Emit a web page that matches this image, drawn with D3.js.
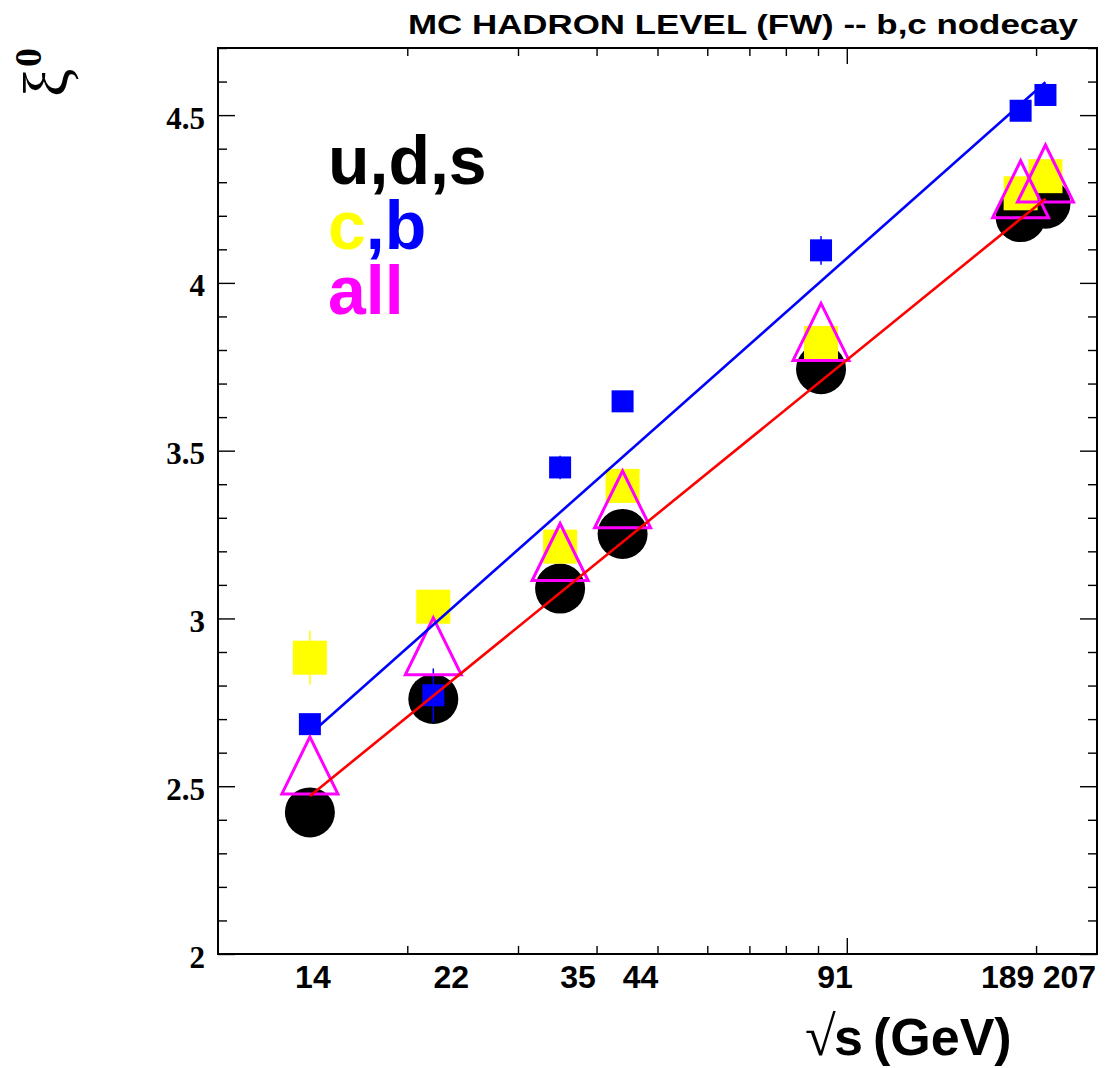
<!DOCTYPE html>
<html lang="en">
<head>
<meta charset="UTF-8">
<title>xi0 vs sqrt(s)</title>
<style>
    body, html { margin: 0; padding: 0; background: #fff; }
    svg { display: block; }
    .sans { font-family: "Liberation Sans", Arial, Helvetica, sans-serif; font-weight: bold; }
    .serif { font-family: "Liberation Serif", "Times New Roman", serif; }
</style>
</head>
<body>
<svg id="svg" width="1107" height="1068"></svg>
<script src="https://d3js.org/d3.v7.min.js"></script>
<script>
// sqrt(s) points in GeV
const energies = [14, 22, 35, 44, 91, 189, 207]
const tickLabels = ['14', '22', '35', '44', '91', '189', '207']

// xi0 for each flavour sample
const xiUDS = [2.422, 2.760, 3.089, 3.252, 3.743, 4.196, 4.236]
const xiC   = [2.883, 3.035, 3.214, 3.395, 3.821, 4.267, 4.318]
const xiB   = [2.685, 2.771, 3.450, 3.647, 4.097, 4.513, 4.560]
const xiAll = [2.562, 2.917, 3.198, 3.355, 3.854, 4.279, 4.326]

// statistical errors
const errUDS = [0.01, 0.01, 0.01, 0.01, 0.01, 0.01, 0.01]
const errC   = [0.08, 0.04, 0.04, 0.04, 0.04, 0.03, 0.03]
const errB   = [0.02, 0.08, 0.035, 0.03, 0.043, 0.02, 0.02]
const errAll = [0, 0, 0, 0, 0, 0, 0]

// straight-line fits, end points at 14 and 207 GeV
const fitEnds = [14, 207]
const fitUDS = [2.471, 4.251]
const fitB = [2.655, 4.598]

const yMajor = [2, 2.5, 3, 3.5, 4, 4.5]

const margin = { top: 48, right: 10, bottom: 114, left: 218 }
const W = 1107, H = 1068
const x = d3.scaleLog().domain([10, 250]).range([margin.left, W - margin.right])
const y = d3.scaleLinear().domain([2, 4.7]).range([H - margin.bottom, margin.top])

const svg = d3.select('#svg')

// ---- ticks on all four sides ----
const xMinor = [20, 30, 40, 50, 60, 70, 80, 90, 200]
const yMinor = d3.range(20, 48).map(d => d / 10).filter(d => !yMajor.includes(d))

function tickGroup(axis, tx, ty) {
    const g = svg.append('g')
        .attr('transform', `translate(${tx},${ty})`)
        .call(axis)
    g.select('.domain').remove()
    g.selectAll('line').attr('stroke', '#000').attr('stroke-width', 1.4)
    return g
}

const x0 = x.range()[0], x1 = x.range()[1]
const y0 = y.range()[0], y1 = y.range()[1]

tickGroup(d3.axisBottom(x).tickValues(xMinor).tickSize(-8).tickFormat(''), 0, y0)
tickGroup(d3.axisBottom(x).tickValues([100]).tickSize(-16).tickFormat(''), 0, y0)
tickGroup(d3.axisTop(x).tickValues(xMinor).tickSize(-8).tickFormat(''), 0, y1)
tickGroup(d3.axisTop(x).tickValues([100]).tickSize(-16).tickFormat(''), 0, y1)

const yAx = tickGroup(d3.axisLeft(y).tickValues(yMajor).tickSize(-17).tickPadding(13)
    .tickFormat(d3.format('')), x0, 0)
yAx.selectAll('text')
    .attr('class', 'serif')
    .style('font-size', '31px')
    .style('font-weight', 'bold')
    .attr('fill', '#000')
    .attr('dy', '0.42em')
tickGroup(d3.axisLeft(y).tickValues(yMinor).tickSize(-9).tickFormat(''), x0, 0)
tickGroup(d3.axisRight(y).tickValues(yMajor).tickSize(-17).tickFormat(''), x1, 0)
tickGroup(d3.axisRight(y).tickValues(yMinor).tickSize(-9).tickFormat(''), x1, 0)

// frame
svg.append('rect')
    .attr('x', x0).attr('y', y1)
    .attr('width', x1 - x0).attr('height', y0 - y1)
    .attr('fill', 'none').attr('stroke', '#000').attr('stroke-width', 2)

// x labels were placed by hand in the original, nudge them a bit
const labelNudge = [3, 18, 18, 18, 14, -13, 24]
svg.append('g').selectAll('text')
    .data(energies)
    .enter()
    .append('text')
    .attr('class', 'sans')
    .attr('x', (d, i) => x(d) + labelNudge[i])
    .attr('y', 988)
    .attr('text-anchor', 'middle')
    .style('font-size', '32px')
    .text((d, i) => tickLabels[i])

// ---- data ----
const plot = svg.append('g')

function series(vals, errs) {
    return energies.map((e, i) => ({ e: e, v: vals[i], err: errs[i] }))
}

function errorBars(data, color) {
    plot.append('g').selectAll('line')
        .data(data.filter(d => d.err > 0))
        .enter()
        .append('line')
        .attr('x1', d => x(d.e)).attr('x2', d => x(d.e))
        .attr('y1', d => y(d.v - d.err)).attr('y2', d => y(d.v + d.err))
        .attr('stroke', color).attr('stroke-width', 1.5)
}

const udsData = series(xiUDS, errUDS)
const cData = series(xiC, errC)
const bData = series(xiB, errB)
const allData = series(xiAll, errAll)

// u,d,s circles
errorBars(udsData, '#000')
plot.append('g').selectAll('circle')
    .data(udsData)
    .enter()
    .append('circle')
    .attr('cx', d => x(d.e))
    .attr('cy', d => y(d.v))
    .attr('r', 25)
    .attr('fill', '#000')

// c squares
errorBars(cData, '#ffff00')
plot.append('g').selectAll('rect')
    .data(cData)
    .enter()
    .append('rect')
    .attr('x', d => x(d.e) - 17)
    .attr('y', d => y(d.v) - 17)
    .attr('width', 34).attr('height', 34)
    .attr('fill', '#ffff00')

// b squares
errorBars(bData, '#0000ff')
plot.append('g').selectAll('rect')
    .data(bData)
    .enter()
    .append('rect')
    .attr('x', d => x(d.e) - 11)
    .attr('y', d => y(d.v) - 11)
    .attr('width', 22).attr('height', 22)
    .attr('fill', '#0000ff')

// all: open triangles
errorBars(allData, '#ff00ff')
plot.append('g').selectAll('path')
    .data(allData)
    .enter()
    .append('path')
    .attr('d', d => {
        const cx = x(d.e), cy = y(d.v)
        return `M${cx},${cy - 28.5}L${cx + 28},${cy + 28.5}L${cx - 28},${cy + 28.5}Z`
    })
    .attr('fill', 'none')
    .attr('stroke', '#ff00ff')
    .attr('stroke-width', 3)

// fit lines
const line = d3.line().x(d => x(d[0])).y(d => y(d[1]))
plot.append('path')
    .attr('d', line(fitEnds.map((e, i) => [e, fitUDS[i]])))
    .attr('fill', 'none').attr('stroke', '#ff0000').attr('stroke-width', 2.6)
plot.append('path')
    .attr('d', line(fitEnds.map((e, i) => [e, fitB[i]])))
    .attr('fill', 'none').attr('stroke', '#0000ff').attr('stroke-width', 2.6)

// ---- legend text ----
const legend = svg.append('g').attr('class', 'sans').style('font-size', '68px')
legend.append('text').attr('x', 328).attr('y', 184).attr('fill', '#000').text('u,d,s')
const cb = legend.append('text').attr('x', 328).attr('y', 249)
cb.append('tspan').attr('fill', '#ffff00').text('c')
cb.append('tspan').attr('fill', '#0000ff').text(',b')
legend.append('text').attr('x', 328).attr('y', 314).attr('fill', '#ff00ff').text('all')

// ---- titles ----
svg.append('text')
    .attr('class', 'sans')
    .attr('x', 408).attr('y', 34)
    .attr('textLength', 670)
    .attr('lengthAdjust', 'spacingAndGlyphs')
    .style('font-size', '27px')
    .text('MC HADRON LEVEL (FW) -- b,c nodecay')

svg.append('text')
    .attr('class', 'serif')
    .attr('x', 805).attr('y', 1055)
    .style('font-size', '56px')
    .text('\u221A')
svg.append('text')
    .attr('class', 'sans')
    .attr('x', 834).attr('y', 1055)
    .style('font-size', '52px')
    .text('s')
svg.append('text')
    .attr('class', 'sans')
    .attr('x', 873).attr('y', 1055)
    .style('font-size', '52px')
    .text('(GeV)')

// y title: xi with superscript 0, rotated
svg.append('text')
    .attr('class', 'serif')
    .attr('transform', 'translate(68,97) rotate(-90)')
    .style('font-size', '64px')
    .text('\u03BE')
svg.append('text')
    .attr('class', 'serif')
    .attr('transform', 'translate(41,67) rotate(-90)')
    .style('font-size', '38px')
    .style('font-weight', 'bold')
    .text('0')
</script>
</body>
</html>
